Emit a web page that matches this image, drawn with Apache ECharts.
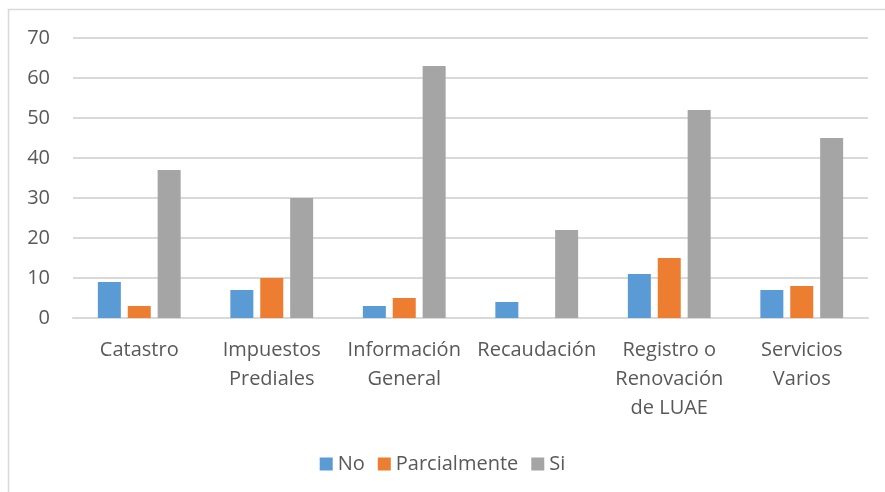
<!DOCTYPE html>
<html>
<head>
<meta charset="utf-8">
<script src="https://cdn.jsdelivr.net/npm/echarts@6/dist/echarts.min.js"></script>
<style>
  html, body { margin: 0; padding: 0; background: #ffffff; }
  #chart { width: 885px; height: 492px; }
</style>
</head>
<body>
<div id="chart"></div>
<script>
// Categories (line breaks follow the wrapped axis labels)
const categories = [
  'Catastro',
  'Impuestos\nPrediales',
  'Información\nGeneral',
  'Recaudación',
  'Registro o\nRenovación\nde LUAE',
  'Servicios\nVarios'
];

// Series values per category
const noValues = [9, 7, 3, 4, 11, 7];
const parcialValues = [3, 10, 5, null, 15, 8];
const siValues = [37, 30, 63, 22, 52, 45];

// Value axis ticks
const yMin = 0;
const yMax = 70;
const yStep = 10;

const FONT = 'Open Sans';
const TEXT = '#595959';

const chart = echarts.init(document.getElementById('chart'), null, { renderer: 'canvas' });

chart.setOption({
  backgroundColor: '#ffffff',
  animation: false,
  textStyle: { fontFamily: FONT },
  graphic: [{
    type: 'rect',
    shape: { x: 8.5, y: 9.5, width: 900, height: 500 },
    style: { fill: 'none', stroke: '#d9d9d9', lineWidth: 1.5 },
    silent: true,
    z: -1
  }],
  grid: { left: 73, right: 17, top: 38, bottom: 174, containLabel: false },
  legend: {
    top: 449,
    left: 'center',
    itemWidth: 13,
    itemHeight: 13,
    itemGap: 13,
    icon: 'rect',
    textStyle: { color: TEXT, fontSize: 20, fontFamily: FONT, padding: [0, 0, 0, 0] },
    data: ['No', 'Parcialmente', 'Si']
  },
  xAxis: {
    type: 'category',
    data: categories,
    axisLine: { show: true, lineStyle: { color: '#d9d9d9', width: 2 } },
    axisTick: { show: false },
    axisLabel: {
      color: TEXT,
      fontSize: 20,
      fontFamily: FONT,
      margin: 18,
      lineHeight: 29,
      interval: 0
    }
  },
  yAxis: {
    type: 'value',
    min: yMin,
    max: yMax,
    interval: yStep,
    axisLine: { show: false },
    axisTick: { show: false },
    splitLine: { lineStyle: { color: '#d9d9d9', width: 2 } },
    axisLabel: { color: TEXT, fontSize: 20, fontFamily: FONT, margin: 23 }
  },
  series: [
    { name: 'No', type: 'bar', data: noValues, barWidth: 23, barGap: '30%', itemStyle: { color: '#5B9BD5' } },
    { name: 'Parcialmente', type: 'bar', data: parcialValues, barWidth: 23, barGap: '30%', itemStyle: { color: '#ED7D31' } },
    { name: 'Si', type: 'bar', data: siValues, barWidth: 23, barGap: '30%', itemStyle: { color: '#A5A5A5' } }
  ]
});
</script>
</body>
</html>
